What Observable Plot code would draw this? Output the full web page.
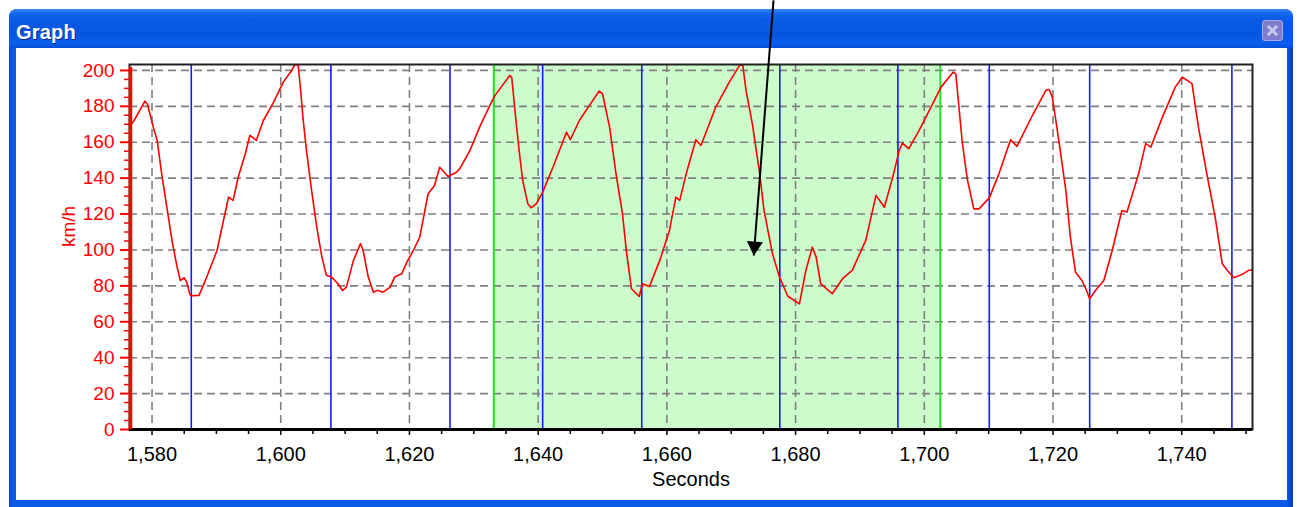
<!DOCTYPE html>
<html><head><meta charset="utf-8">
<script src="https://cdn.jsdelivr.net/npm/d3@7"></script>
<script src="https://cdn.jsdelivr.net/npm/@observablehq/plot@0.6"></script>
<style>
html,body{margin:0;padding:0;background:#fff;}
body{width:1297px;height:507px;position:relative;overflow:hidden;font-family:"Liberation Sans",Arial,sans-serif;}
#win{position:absolute;left:9px;top:9px;width:1284px;height:505px;background:linear-gradient(to right,#0842c8 0px,#0a5ae6 3px,#0a5ae6 1278px,#0636b8 1284px);border-radius:8px 8px 0 0;}
#titlebar{position:absolute;left:9px;top:9px;width:1284px;height:39px;border-radius:8px 8px 0 0;
  background:linear-gradient(to bottom,#3d8af7 0px,#1769ee 4px,#0a5ae6 10px,#0656e2 26px,#0a5fec 34px,#0650d8 39px);}
#title{position:absolute;left:16px;top:20px;color:#fff;font-weight:bold;font-size:20px;line-height:24px;text-shadow:1px 1px 0 #0b2a8c;letter-spacing:0.2px;}
#close{position:absolute;left:1262px;top:20px;width:19px;height:19px;border:1px solid #a9a9e6;border-radius:3px;background:#7d7dcc;}
#close:before,#close:after{content:"";position:absolute;left:3px;top:8px;width:13px;height:3px;background:#c6c6ee;}
#close:before{transform:rotate(45deg);} #close:after{transform:rotate(-45deg);}
#panel{position:absolute;left:16px;top:48px;width:1271px;height:452px;background:#fff;}
#chart{position:absolute;left:0;top:0;}
</style></head>
<body>
<div id="win"></div>
<div id="titlebar"></div>
<div id="title">Graph</div>
<div id="close"></div>
<div id="panel"></div>
<div id="chart"></div>
<script>
// Speed trace (seconds, km/h)
const seconds = [1576.4,1577.2,1578.9,1579.3,1580.2,1580.8,1581.5,1582.3,1583.1,1583.9,1584.4,1585.0,1585.4,1585.9,1586.2,1587.3,1588.5,1590.1,1591.1,1591.9,1592.6,1593.4,1594.5,1595.2,1595.7,1596.2,1597.3,1598.9,1600.4,1601.7,1602.2,1602.7,1603.0,1603.5,1604.0,1604.8,1605.6,1606.4,1607.1,1607.9,1608.9,1609.6,1610.2,1611.3,1612.4,1612.8,1613.6,1614.4,1615.0,1615.9,1617.0,1617.7,1618.8,1619.6,1620.6,1621.6,1622.9,1623.9,1624.7,1626.0,1627.3,1627.8,1629.4,1630.9,1632.5,1633.3,1635.6,1635.9,1636.6,1637.1,1637.6,1638.4,1638.9,1639.7,1640.7,1642.3,1644.4,1645.0,1646.4,1648.5,1649.5,1650.0,1651.1,1652.1,1653.1,1653.7,1654.5,1655.7,1656.2,1657.3,1658.9,1660.4,1661.4,1662.0,1663.0,1664.5,1665.3,1667.6,1669.7,1671.3,1671.8,1672.3,1673.3,1674.4,1675.1,1676.4,1677.5,1678.8,1680.6,1681.6,1682.6,1683.2,1683.9,1685.7,1687.3,1688.8,1690.9,1692.5,1693.8,1695.1,1696.1,1696.6,1697.6,1699.2,1701.3,1702.6,1704.5,1704.9,1705.9,1706.7,1707.7,1708.5,1710.1,1711.6,1713.4,1714.4,1716.8,1718.9,1719.4,1719.9,1720.9,1722.0,1722.7,1723.5,1724.5,1725.1,1725.7,1726.6,1727.9,1729.2,1730.7,1731.5,1733.3,1734.4,1735.2,1737.0,1739.0,1740.1,1741.6,1742.6,1743.9,1745.2,1746.3,1747.1,1748.1,1749.4,1750.4,1751.0];
const speed = [168.4,172,182.9,181,168.4,161,142.4,123.8,105.3,90.4,83,84.5,82,75,74.5,74.7,84.9,99.7,116.4,129.4,127.6,140.6,153.6,163.8,162.5,161,172.1,182.3,193.5,200,203.3,203,192.6,172.1,155.4,133.1,112.7,96,85.8,84.9,81.2,77.4,79.3,94.2,103.5,99.7,84.9,76.5,77.5,76.5,79.3,84.9,86.7,93.2,99.7,107.1,131.3,135.9,146.1,140.9,143.3,145.2,155.4,168.4,180.5,186.1,197.2,196,170.3,153.6,138.7,125.7,123.5,125.7,132.2,146.1,165.6,161.4,172.1,183.3,188.5,187,168.4,142.4,120.2,99.7,78.4,74.1,81.2,79.7,94.2,110.9,129.4,127.6,142.4,161.4,158.2,179.6,193.5,202.8,203,188.9,170,143,122,98,84.9,74.2,70,88.6,101.6,96,81.2,75.6,84,88.6,105.3,130.4,123.8,140.6,155.4,159.5,156.4,166.6,181.4,190.7,199.1,198,160,139,122.9,122.9,129,142.4,161.4,157.7,174.9,188.9,189.4,185.1,161,133.1,107.1,87.6,83,78.4,72.8,77.4,83,99.7,122,121.1,142.4,159.2,157.3,174,190.7,196.3,192.6,168.4,142.4,118.3,92.3,88.6,84.5,86.4,88.6,89];
// Lap markers (blue) and selected range (green)
const lapMarks = [1586.1,1607.8,1626.3,1640.7,1656.1,1677.55,1695.9,1710.1,1725.7,1747.8];
const selection = [1633.1,1702.5];
// Axes
const xDomain = [1576.5,1751.0];
const yDomain = [0,203.3];
const xTicks = [1580,1600,1620,1640,1660,1680,1700,1720,1740];
const xMinor = [1585,1590,1595,1605,1610,1615,1625,1630,1635,1645,1650,1655,1665,1670,1675,1685,1690,1695,1705,1710,1715,1725,1730,1735,1745,1750];
const yTicks = [0,20,40,60,80,100,120,140,160,180,200];
const yMinor = [5,10,15,25,30,35,45,50,55,65,70,75,85,90,95,105,110,115,125,130,135,145,150,155,165,170,175,185,190,195];
const yLabel = ["km/h"];
const xLabel = ["Seconds"];
// Annotation arrow (start above the window, tip inside plot)
const arrowStart = [1676.57,239];
const arrowEnd = [1673.51,96.9];

const red = "#ff0000";
const trace = seconds.map((s,i)=>({s, v: speed[i]}));
const dash = "8,5";
const chart = Plot.plot({
  width:1297, height:507,
  marginLeft:129, marginRight:45, marginTop:64, marginBottom:78,
  style:{background:"transparent", overflow:"visible", fontFamily:"'Liberation Sans', Arial, sans-serif"},
  x:{domain:xDomain},
  y:{domain:yDomain},
  marks:[
    Plot.rect([selection], {x1:d=>d[0], x2:d=>d[1], y1:()=>yDomain[0], y2:()=>yDomain[1], fill:"#ccfbcc"}),
    Plot.ruleY(yTicks.filter(d=>d>0), {stroke:"#808080", strokeWidth:1.6, strokeDasharray:dash}),
    Plot.ruleX(xTicks, {stroke:"#808080", strokeWidth:1.6, strokeDasharray:dash}),
    Plot.ruleX(lapMarks, {stroke:"#1a1aff", strokeWidth:1.6}),
    Plot.ruleX(selection, {stroke:"#22dd22", strokeWidth:2}),
    Plot.line(trace, {x:"s", y:"v", stroke:red, strokeWidth:1.6, clip:true}),
    Plot.frame({stroke:"#222", strokeWidth:2}),
    Plot.ruleY([0], {stroke:"#000", strokeWidth:3}),
    Plot.axisX(xTicks, {tickSize:6, tickPadding:11, tickFormat:d3.format(","), fontSize:20, stroke:"#000", fill:"#000", strokeWidth:1.5, label:null}),
    Plot.axisX(xMinor, {tickSize:5, tickFormat:()=>"", stroke:"#000", strokeWidth:1.5, label:null}),
    Plot.axisY(yTicks, {tickSize:9, tickPadding:6, fontSize:19, stroke:red, fill:red, strokeWidth:2, label:null}),
    Plot.axisY(yMinor, {tickSize:5, tickFormat:()=>"", stroke:red, strokeWidth:1.5, label:null}),
    Plot.ruleX([xDomain[0]], {stroke:red, strokeWidth:3.5, dx:1, y1:()=>yDomain[0], y2:()=>yDomain[1], insetBottom:-3}),
    Plot.text(yLabel, {text:d=>d, frameAnchor:"left", dx:-61, rotate:-90, fill:red, fontSize:19, lineAnchor:"middle"}),
    Plot.text(xLabel, {text:d=>d, frameAnchor:"bottom", dy:50, fill:"#000", fontSize:20, lineAnchor:"middle"}),
    Plot.link([[arrowStart, arrowEnd]], {x1:d=>d[0][0], y1:d=>d[0][1], x2:d=>d[1][0], y2:d=>d[1][1], stroke:"#000", strokeWidth:2}),
    Plot.dot([arrowEnd], {x:d=>d[0], y:d=>d[1], symbol:"triangle", r:6, fill:"#000", stroke:"none", rotate:184.5, dx:0.7, dy:-9.2})
  ]
});
document.getElementById("chart").appendChild(chart);
</script>
</body></html>
